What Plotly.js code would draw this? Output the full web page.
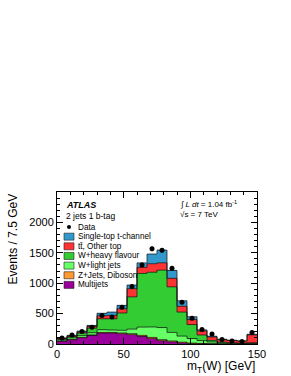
<!DOCTYPE html>
<html>
<head>
<meta charset="utf-8">
<script src="https://cdn.plot.ly/plotly-3.0.1.min.js"></script>
<style>html,body{margin:0;padding:0;background:#fff;}#chart{width:291px;height:376px;}</style>
</head>
<body>
<div id="chart"></div>
<script>
// ---- data (events per 7.5 GeV bin) ----
const binCenters = [3.75, 11.25, 18.75, 26.25, 33.75, 41.25, 48.75, 56.25, 63.75, 71.25, 78.75, 86.25, 93.75, 101.25, 108.75, 116.25, 123.75, 131.25, 138.75, 146.25];
const binEdges = [0, 7.5, 15, 22.5, 30, 37.5, 45, 52.5, 60, 67.5, 75, 82.5, 90, 97.5, 105, 112.5, 120, 127.5, 135, 142.5, 150];
const multijets  = [45, 70, 105, 140, 180, 180, 170, 155, 125, 90, 55, 35, 18, 8, 4, 2, 1, 1, 1, 1];
const zjetsDiboson = [5, 5, 5, 10, 10, 10, 12, 15, 17, 18, 17, 15, 12, 7, 5, 3, 2, 1, 1, 2];
const wLight     = [20, 25, 30, 35, 45, 40, 43, 75, 136, 172, 198, 140, 100, 75, 47, 28, 15, 10, 6, 7];
const wHeavy     = [15, 20, 40, 75, 180, 185, 285, 530, 882, 900, 945, 750, 395, 230, 92, 27, 12, 8, 7, 10];
const ttbarOther = [7, 12, 18, 28, 50, 55, 70, 135, 100, 140, 120, 140, 95, 82, 67, 55, 40, 38, 33, 130];
const singleTop  = [8, 10, 14, 17, 40, 55, 55, 60, 75, 160, 210, 130, 92, 48, 17, 13, 8, 4, 4, 10];
const dataCounts = [100, 150, 205, 275, 470, 445, 605, 945, 1300, 1565, 1540, 1245, 685, 425, 237, 163, 75, 50, 40, 190];
const dataErrors = [10, 12, 14, 17, 22, 21, 25, 31, 36, 40, 39, 35, 26, 21, 15, 13, 9, 7, 6, 14];
const xTickVals = [0, 50, 100, 150];
const yTickVals = [0, 500, 1000, 1500, 2000];

const components = [
  {name: 'Multijets', vals: multijets, color: 'rgb(153,0,153)'},
  {name: 'Z+Jets, Diboson', vals: zjetsDiboson, color: 'rgb(255,153,51)'},
  {name: 'W+light jets', vals: wLight, color: 'rgb(102,255,102)'},
  {name: 'W+heavy flavour', vals: wHeavy, color: 'rgb(51,204,51)'},
  {name: 'tt\u0304, Other top', vals: ttbarOther, color: 'rgb(255,51,51)'},
  {name: 'Single-top t-channel', vals: singleTop, color: 'rgb(51,153,204)'}
];

const FONT = 'Liberation Sans, Arial, Helvetica, sans-serif';
const traces = [];
const cum = binCenters.map(() => 0);
const outlines = [];
components.forEach(c => {
  traces.push({type: 'bar', x: binCenters, y: c.vals, width: 7.5, name: c.name,
    marker: {color: c.color, line: {width: 0}}, showlegend: false, hoverinfo: 'skip'});
  c.vals.forEach((v, i) => cum[i] += v);
  outlines.push({type: 'scatter', mode: 'lines', x: binEdges, y: cum.concat([cum[cum.length - 1]]),
    line: {shape: 'hv', color: 'rgba(20,20,20,0.9)', width: 0.8}, showlegend: false, hoverinfo: 'skip'});
});
traces.push(...outlines);
traces.push({type: 'scatter', mode: 'markers', x: binCenters, y: dataCounts, name: 'Data',
  marker: {color: 'black', size: 5},
  error_y: {type: 'data', array: dataErrors, color: 'black', thickness: 1, width: 0},
  showlegend: false});

// ---- manual legend (pixel -> paper helpers) ----
const L = 57, T = 192, W = 200, H = 152;
const px = p => (p - L) / W;
const py = p => (T + H - p) / H;
const shapes = [];
const annotations = [];
const legendRows = [{name: 'Data', color: null}].concat(components.slice().reverse());
legendRows.forEach((r, k) => {
  const yc = 227 + k * 9.65;
  if (r.color === null) {
    shapes.push({type: 'circle', xref: 'paper', yref: 'paper', x0: px(67), x1: px(71), y0: py(yc + 2), y1: py(yc - 2),
      fillcolor: 'black', line: {width: 0}});
  } else {
    shapes.push({type: 'rect', xref: 'paper', yref: 'paper', x0: px(64), x1: px(74), y0: py(yc + 3.5), y1: py(yc - 3.5),
      fillcolor: r.color, line: {width: 0.6, color: '#222'}});
  }
  annotations.push({xref: 'paper', yref: 'paper', x: px(75.5), y: py(yc), xanchor: 'left', yanchor: 'middle',
    text: r.name, showarrow: false, font: {family: FONT, size: 8.2, color: 'black'}});
});
annotations.push({xref: 'paper', yref: 'paper', x: px(63.5), y: py(205), xanchor: 'left', yanchor: 'middle',
  text: '<b><i>ATLAS</i></b>', showarrow: false, font: {family: FONT, size: 9, color: 'black'}});
annotations.push({xref: 'paper', yref: 'paper', x: px(64), y: py(216), xanchor: 'left', yanchor: 'middle',
  text: '2 jets 1 b-tag', showarrow: false, font: {family: FONT, size: 8.5, color: 'black'}});
annotations.push({xref: 'paper', yref: 'paper', x: px(178), y: py(204), xanchor: 'left', yanchor: 'middle',
  text: '\u222B <i>L dt</i> = 1.04 fb<sup>-1</sup>', showarrow: false, font: {family: FONT, size: 8, color: 'black'}});
annotations.push({xref: 'paper', yref: 'paper', x: px(178), y: py(214), xanchor: 'left', yanchor: 'middle',
  text: '\u221As = 7 TeV', showarrow: false, font: {family: FONT, size: 8, color: 'black'}});
annotations.push({xref: 'paper', yref: 'paper', x: 1, y: py(367), xanchor: 'right', yanchor: 'middle',
  text: 'm<sub>T</sub>(W) [GeV]', showarrow: false, font: {family: FONT, size: 12, color: 'black'}});
annotations.push({xref: 'paper', yref: 'paper', x: px(12), y: 1, xanchor: 'center', yanchor: 'top', textangle: -90,
  text: 'Events / 7.5 GeV', showarrow: false, font: {family: FONT, size: 12, color: 'black'}});

const axisCommon = {showgrid: false, zeroline: false, showline: true, linecolor: 'black', linewidth: 1,
  ticks: 'inside', mirror: 'allticks', tickcolor: 'black', tickwidth: 1, ticklen: 6,
  tickfont: {family: FONT, size: 11, color: 'black'}};

const layout = {
  width: 291, height: 376,
  margin: {l: L, r: 291 - L - W, t: T, b: 376 - T - H, pad: 0},
  paper_bgcolor: 'white', plot_bgcolor: 'white',
  barmode: 'stack', bargap: 0, showlegend: false,
  xaxis: Object.assign({}, axisCommon, {range: [0, 150], tickmode: 'array', tickvals: xTickVals,
    minor: {ticks: 'inside', ticklen: 3, dtick: 10, tick0: 0, tickcolor: 'black'}}),
  yaxis: Object.assign({}, axisCommon, {range: [0, 2500], tickmode: 'array', tickvals: yTickVals,
    minor: {ticks: 'inside', ticklen: 3, dtick: 100, tick0: 0, tickcolor: 'black'}}),
  shapes: shapes, annotations: annotations
};

Plotly.newPlot('chart', traces, layout, {staticPlot: true, displayModeBar: false});
</script>
</body>
</html>
